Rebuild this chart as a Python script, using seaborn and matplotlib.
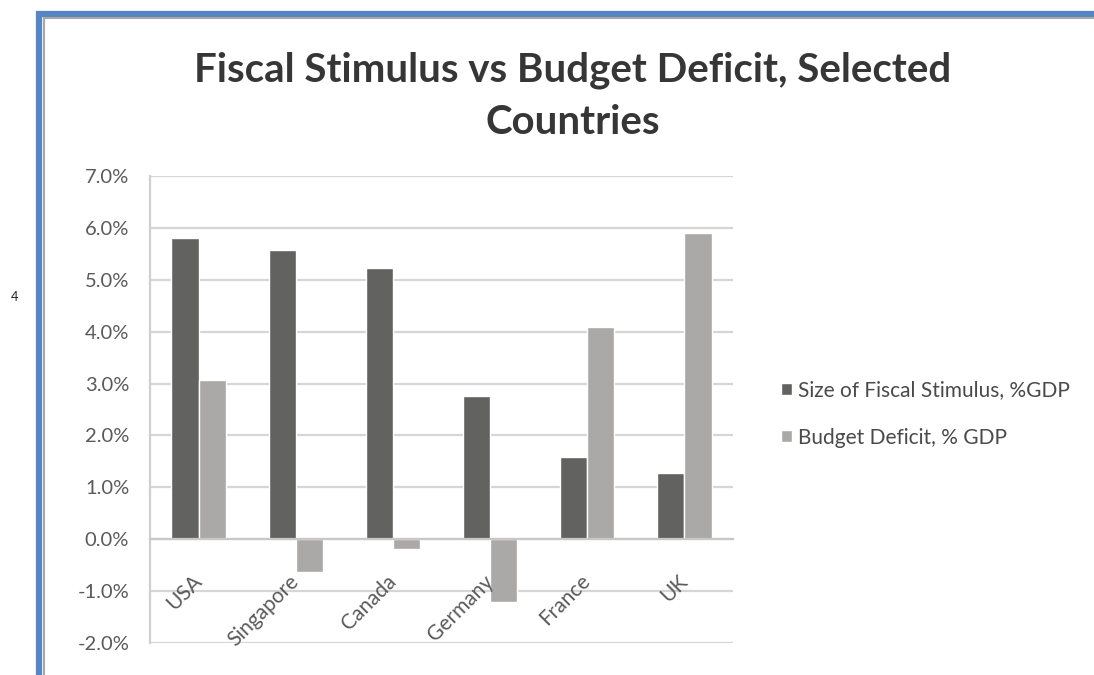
import matplotlib
matplotlib.use("Agg")
import matplotlib.pyplot as plt
import matplotlib.ticker as mticker
from matplotlib.lines import Line2D
import seaborn as sns
import pandas as pd

countries = ["USA", "Singapore", "Canada", "Germany", "France", "UK"]
stimulus = [5.81, 5.57, 5.22, 2.76, 1.59, 1.28]
deficit = [3.07, -0.64, -0.18, -1.21, 4.09, 5.90]
series_names = ["Size of Fiscal Stimulus, %GDP", "Budget Deficit, % GDP"]
y_ticks = [-2, -1, 0, 1, 2, 3, 4, 5, 6, 7]

df = pd.DataFrame({
    "country": countries * 2,
    "value": stimulus + deficit,
    "series": [series_names[0]] * len(countries) + [series_names[1]] * len(countries),
})

sns.set_theme(style="white")
plt.rcParams["font.family"] = ["Lato", "DejaVu Sans"]

fig = plt.figure(figsize=(10.94, 6.75), dpi=100)
ax = fig.add_axes([150 / 1094, 1 - 643 / 675, (733 - 150) / 1094, (643 - 176) / 675])

sns.barplot(data=df, x="country", y="value", hue="series", order=countries,
            hue_order=series_names, palette=["#626260", "#aaa9a7"],
            width=0.56, gap=0, saturation=1, ax=ax, legend=True)

ax.set_ylim(-2, 7)
ax.set_yticks(y_ticks)
ax.yaxis.set_major_formatter(mticker.FuncFormatter(lambda v, p: f"{v:.1f}%"))
ax.set_xlabel("")
ax.set_ylabel("")
ax.grid(axis="y", color="#d6d6d6", linewidth=1.6)
ax.set_axisbelow(True)
ax.xaxis.set_zorder(5)
for s in ["top", "right"]:
    ax.spines[s].set_visible(False)
ax.spines["left"].set_color("#cfcfcf")
ax.spines["left"].set_linewidth(1.6)
ax.spines["bottom"].set_position(("data", 0))
ax.spines["bottom"].set_color("#c8c8c8")
ax.spines["bottom"].set_linewidth(1.6)
ax.tick_params(axis="y", length=0, pad=15, labelsize=14.5, labelcolor="#5a5a5a")
ax.tick_params(axis="x", length=0, pad=28, labelsize=15, labelcolor="#5a5a5a")
for lab in ax.get_xticklabels():
    lab.set_rotation(45)
    lab.set_ha("right")
    lab.set_va("center")
    lab.set_rotation_mode("anchor")

handles, labels = ax.get_legend_handles_labels()
ax.legend_.remove()
fig.legend(handles, labels, loc="center left", bbox_to_anchor=(762 / 1094, 1 - 414 / 675),
           frameon=False, fontsize=15, labelcolor="#4a4a4a", handlelength=0.55,
           handleheight=0.55, handletextpad=0.3, labelspacing=1.3)

fig.text(573 / 1094, 1 - 96 / 675, "Fiscal Stimulus vs Budget Deficit, Selected\nCountries",
         ha="center", va="center", fontsize=29, fontweight="bold", color="#363636",
         linespacing=1.5)

fig.text(14 / 1094, 1 - 297 / 675, "4", ha="center", va="center", fontsize=9, color="#222222")

# frame (blue border with grey inner shadow)
fig.add_artist(Line2D([39 / 1094, 39 / 1094], [0, 1 - 11 / 675], color="#5585c5", linewidth=4.5,
                      solid_capstyle="butt", transform=fig.transFigure))
fig.add_artist(Line2D([36 / 1094, 1], [1 - 13.5 / 675, 1 - 13.5 / 675], color="#5585c5",
                      linewidth=4.5, solid_capstyle="butt", transform=fig.transFigure))
fig.add_artist(Line2D([43.5 / 1094, 43.5 / 1094], [0, 1 - 17 / 675], color="#a8a8a8", linewidth=1.5,
                      solid_capstyle="butt", transform=fig.transFigure))
fig.add_artist(Line2D([43 / 1094, 1], [1 - 18 / 675, 1 - 18 / 675], color="#a8a8a8",
                      linewidth=1.5, solid_capstyle="butt", transform=fig.transFigure))

fig.savefig("out.png", dpi=100)
